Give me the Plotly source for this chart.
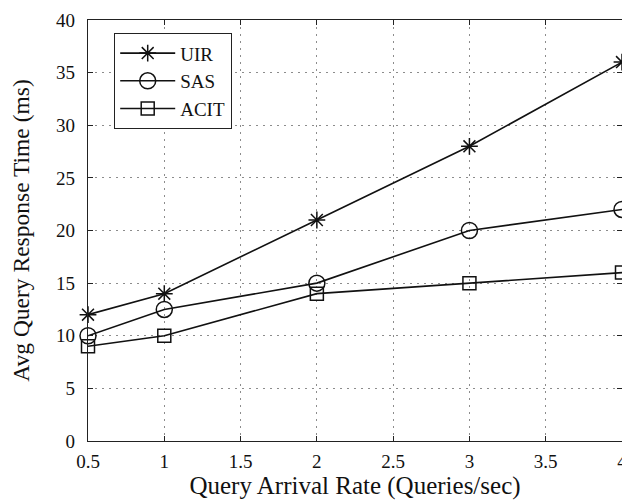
import plotly.graph_objects as go

x_vals = [0.5, 1, 2, 3, 4]
uir = [12, 14, 21, 28, 36]
sas = [10, 12.5, 15, 20, 22]
acit = [9, 10, 14, 15, 16]
x_ticks = [0.5, 1, 1.5, 2, 2.5, 3, 3.5, 4]
x_tick_text = ["0.5", "1", "1.5", "2", "2.5", "3", "3.5", "4"]
y_ticks = [0, 5, 10, 15, 20, 25, 30, 35, 40]

FONT = "Liberation Serif, Times New Roman, serif"

fig = go.Figure()
series = [("UIR", uir, "asterisk-open", 14), ("SAS", sas, "circle-open", 16), ("ACIT", acit, "square-open", 13)]
for name, ys, sym, sz in series:
    fig.add_trace(go.Scatter(
        x=x_vals, y=ys, name=name, mode="lines+markers",
        line=dict(color="#111111", width=1.6),
        marker=dict(symbol=sym, size=sz, color="#111111", line=dict(width=1.5, color="#111111")),
        cliponaxis=False,
    ))

axis_common = dict(
    showline=True, linecolor="#222222", linewidth=1.2, mirror="ticks",
    ticks="inside", ticklen=5, tickcolor="#222222",
    showgrid=True, gridcolor="#8c8c8c", griddash="1.5px,5.5px", gridwidth=1,
    zeroline=False, tickfont=dict(family=FONT, size=19, color="#111111"),
    automargin=False, ticklabeloverflow="allow",
)

fig.update_layout(
    width=622, height=500,
    margin=dict(l=88, r=0, t=20, b=59),
    paper_bgcolor="white", plot_bgcolor="white",
    font=dict(family=FONT, color="#111111"),
    xaxis=dict(range=[0.5, 4], tickvals=x_ticks, ticktext=x_tick_text,
               ticklabelstandoff=3,
               title=dict(text="Query Arrival Rate (Queries/sec)", font=dict(family=FONT, size=25), standoff=4),
               **axis_common),
    yaxis=dict(range=[0, 40], tickvals=y_ticks,
               ticklabelstandoff=8,
               title=dict(text="Avg Query Response Time (ms)", font=dict(family=FONT, size=23.5), standoff=19),
               **axis_common),
    legend=dict(x=0.0487, y=0.969, xanchor="left", yanchor="top",
                bordercolor="#222222", borderwidth=1.2, bgcolor="white",
                font=dict(family=FONT, size=19, color="#111111"),
                itemwidth=55, tracegroupgap=0, traceorder="normal"),
    showlegend=True,
)

fig.write_html(
    "out.html",
    config={"displayModeBar": False},
    post_script="document.documentElement.style.overflow='hidden';"
                "document.body.style.margin='0';document.body.style.overflow='hidden';",
)
